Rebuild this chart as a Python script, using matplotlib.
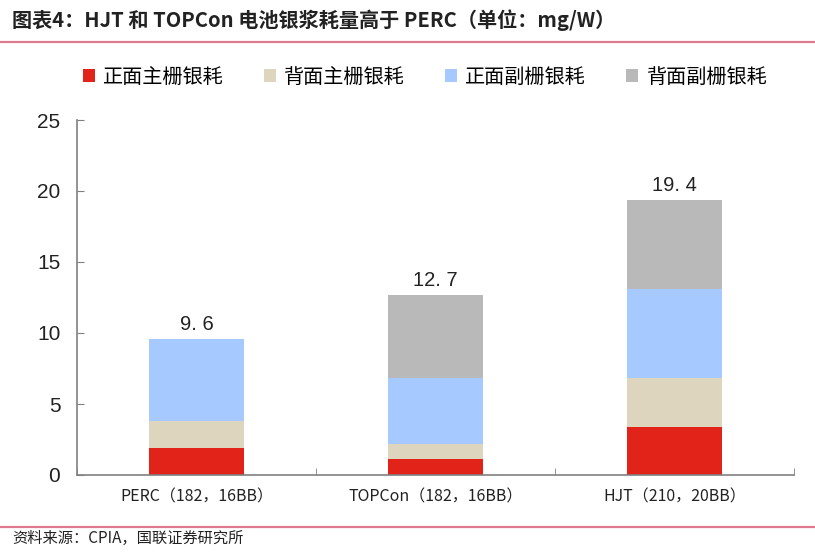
import matplotlib
matplotlib.use("Agg")
import matplotlib.pyplot as plt
from matplotlib.lines import Line2D
from matplotlib.patches import Patch

plt.rcParams['font.family'] = ['Noto Sans CJK SC', 'DejaVu Sans']

categories = ["PERC（182，16BB）", "TOPCon（182，16BB）", "HJT（210，20BB）"]
series_names = ["正面主栅银耗", "背面主栅银耗", "正面副栅银耗", "背面副栅银耗"]
front_main = [1.9, 1.1, 3.4]
back_main = [1.9, 1.1, 3.4]
front_finger = [5.8, 4.6, 6.3]
back_finger = [0.0, 5.9, 6.3]
totals = [9.6, 12.7, 19.4]
yticks = [0, 5, 10, 15, 20, 25]

colors = ["#e2231a", "#ded5bf", "#a6c9ff", "#b9b9b9"]

fig = plt.figure(figsize=(8.15, 5.54), dpi=100)
ax = fig.add_axes([77/815, 1-475/554, (794-77)/815, (475-120)/554])

x = list(range(len(categories)))
bottom = [0.0]*3
for vals, col, name in zip([front_main, back_main, front_finger, back_finger], colors, series_names):
    ax.bar(x, vals, width=0.4, bottom=bottom, color=col, label=name, zorder=2)
    bottom = [b+v for b, v in zip(bottom, vals)]

for xi, t in zip(x, totals):
    ax.text(xi, t + 0.3, f"{t:.1f}".replace(".", ". "), ha="center", va="bottom",
            fontsize=14.5, family="Liberation Sans", color="#222222")

ax.set_xlim(-0.5, 2.5)
ax.set_ylim(0, 25)
ax.set_yticks(yticks)
ax.set_yticklabels([str(v) for v in yticks], family="Liberation Sans", fontsize=15, color="#222222")
ax.set_xticks(x)
ax.set_xticklabels(categories, fontsize=11.5, color="#222222")
ax.set_xticks([-0.5, 0.5, 1.5, 2.5], minor=True)
ax.tick_params(axis="x", which="major", length=0, pad=10)
ax.tick_params(axis="x", which="minor", direction="in", length=5, color="#808080")
ax.tick_params(axis="y", direction="in", length=5, color="#808080", pad=12)
for s in ["top", "right"]:
    ax.spines[s].set_visible(False)
for s in ["left", "bottom"]:
    ax.spines[s].set_color("#808080")
    ax.spines[s].set_linewidth(1.2)

handles = [Patch(facecolor=c, edgecolor="none") for c in colors]
fig.legend(handles, series_names, loc="center", bbox_to_anchor=(425/815, 1-77/554),
           ncol=4, frameon=False, fontsize=14.5, handlelength=0.6, handleheight=0.6,
           handletextpad=0.4, columnspacing=2.0)

fig.text(12/815, 1-20/554, "图表4：HJT 和 TOPCon 电池银浆耗量高于 PERC（单位：mg/W）",
         fontsize=14.5, fontweight="bold", ha="left", va="center", color="#222222")
fig.add_artist(Line2D([0, 1], [1-42/554, 1-42/554], color="#e07a8e", lw=1.6, transform=fig.transFigure))
fig.add_artist(Line2D([0, 1], [1-527/554, 1-527/554], color="#e07a8e", lw=1.6, transform=fig.transFigure))
fig.text(12/815, 1-538/554, "资料来源：CPIA，国联证券研究所", fontsize=11, ha="left", va="center", color="#222222")

fig.savefig("out.png", dpi=100, facecolor="white")
